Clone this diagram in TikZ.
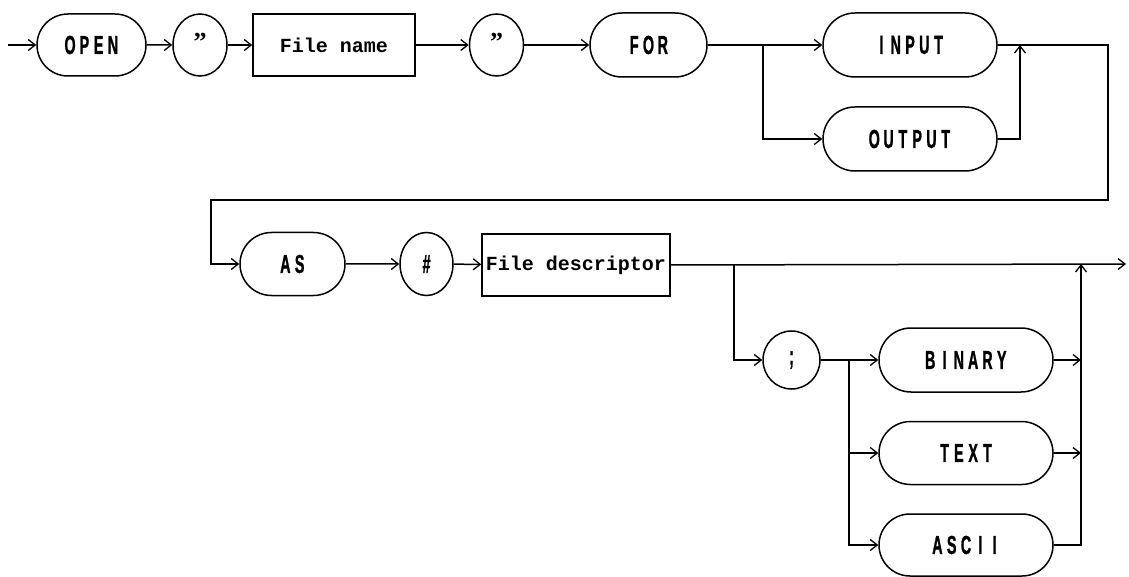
\documentclass[tikz,border=0pt]{standalone}
\usepackage{fontspec}
\usepackage{graphicx}
\usetikzlibrary{arrows.meta,shapes.misc,shapes.geometric}
\newfontfamily\labfont{Liberation Sans}[FakeBold=1.5]
\newfontfamily\boxfont{Liberation Mono}
\newfontfamily\qfont{Liberation Serif}
\newcommand\spreadlab[1]{\spreadloop#1\relax}
\def\spreadloop#1{\ifx#1\relax\else\makebox[14.3pt]{\scalebox{0.55}[1]{#1}}\expandafter\spreadloop\fi}
\tikzset{
  lw/.style={line width=1.5pt},
  arr/.style={lw,-{Straight Barb[length=7pt,width=11pt,line width=1.3pt]}},
  ln/.style={lw},
  oval/.style={lw,draw,rounded rectangle,inner sep=0pt,
    font=\labfont\bfseries\fontsize{26}{26}\selectfont},
  roundq/.style={lw,draw,ellipse,inner sep=0pt,
    minimum width=54pt,minimum height=62pt,
    font=\qfont\bfseries\fontsize{26}{26}\selectfont},
  boxn/.style={lw,draw,rectangle,inner sep=0pt,
    font=\boxfont\bfseries\fontsize{20}{20}\selectfont},
}
\begin{document}
\begin{tikzpicture}[x=1pt,y=-1pt]
\useasboundingbox (0,0) rectangle (1129,577);
% row 1
\coordinate (start) at (8,45);
\node[oval,minimum width=109pt,minimum height=62pt] (open) at (91.5,45) {\spreadlab{OPEN}};
\node[roundq] (q1) at (200,45) {\raisebox{6pt}{”}};
\node[boxn,minimum width=162pt,minimum height=62pt] (fname) at (334,45) {File name};
\node[roundq] (q2) at (496.5,45) {\raisebox{6pt}{”}};
\node[oval,minimum width=117pt,minimum height=64pt] (for) at (648.5,45) {\spreadlab{FOR}};
\node[oval,minimum width=174pt,minimum height=64pt] (input) at (910,45) {\spreadlab{INPUT}};
\node[oval,minimum width=174pt,minimum height=64pt] (output) at (910,139) {\spreadlab{OUTPUT}};
\coordinate (b1) at (763,45);
\coordinate (j1) at (1020,45);
\coordinate (r1) at (1108,45);
\coordinate (r2) at (1108,200);
\coordinate (l1) at (211,200);
% row 2
\node[oval,minimum width=105pt,minimum height=63pt] (as) at (292.5,264) {\spreadlab{AS}};
\node[roundq,minimum width=53pt,minimum height=63pt,font=\labfont\bfseries\fontsize{26}{26}\selectfont] (hash) at (426.5,264) {\spreadlab{\#}};
\node[boxn,minimum width=188pt,minimum height=62pt] (fdesc) at (576,265) {File descriptor};
\coordinate (b2) at (734,264);
\coordinate (j2) at (1081,264);
\coordinate (end) at (1126,264);
\node[roundq,minimum width=57pt,minimum height=58pt,font=\labfont\bfseries\fontsize{26}{26}\selectfont] (semi) at (791.5,360) {\spreadlab{;}};
\coordinate (b3) at (849,360);
\node[oval,minimum width=174pt,minimum height=64pt] (binary) at (966,360) {\spreadlab{BINARY}};
\node[oval,minimum width=174pt,minimum height=63pt] (text) at (966,453) {\spreadlab{TEXT}};
\node[oval,minimum width=174pt,minimum height=62pt] (ascii) at (966,545) {\spreadlab{ASCII}};
\coordinate (jb) at (1081,360);
\coordinate (jt) at (1081,453);
% connectors row 1
\draw[arr] (start) -- (open);
\draw[arr] (open) -- (q1);
\draw[arr] (q1) -- (fname);
\draw[arr] (fname) -- (q2);
\draw[arr] (q2) -- (for);
\draw[ln] (for.east) -- (b1);
\draw[arr] (b1) -- (input.west);
\draw[arr] (b1) |- (output.west);
\draw[arr] (output.east) -| (j1);
\draw[arr,line join=miter] (input.east) -- (r1) -- (r2) -- (l1) |- (as.west);
% connectors row 2
\draw[arr] (as) -- (hash);
\draw[arr] (hash) -- (fdesc);
\draw[arr] (fdesc.east) -- (end);
\draw[arr] (b2) |- (semi.west);
\draw[ln] (semi.east) -- (b3);
\draw[arr] (b3) -- (binary.west);
\draw[arr] (b3) |- (text.west);
\draw[arr] (b3) |- (ascii.west);
\draw[arr] (binary.east) -- (jb);
\draw[arr] (text.east) -- (jt);
\draw[arr] (ascii.east) -| (j2);
\end{tikzpicture}
\end{document}
